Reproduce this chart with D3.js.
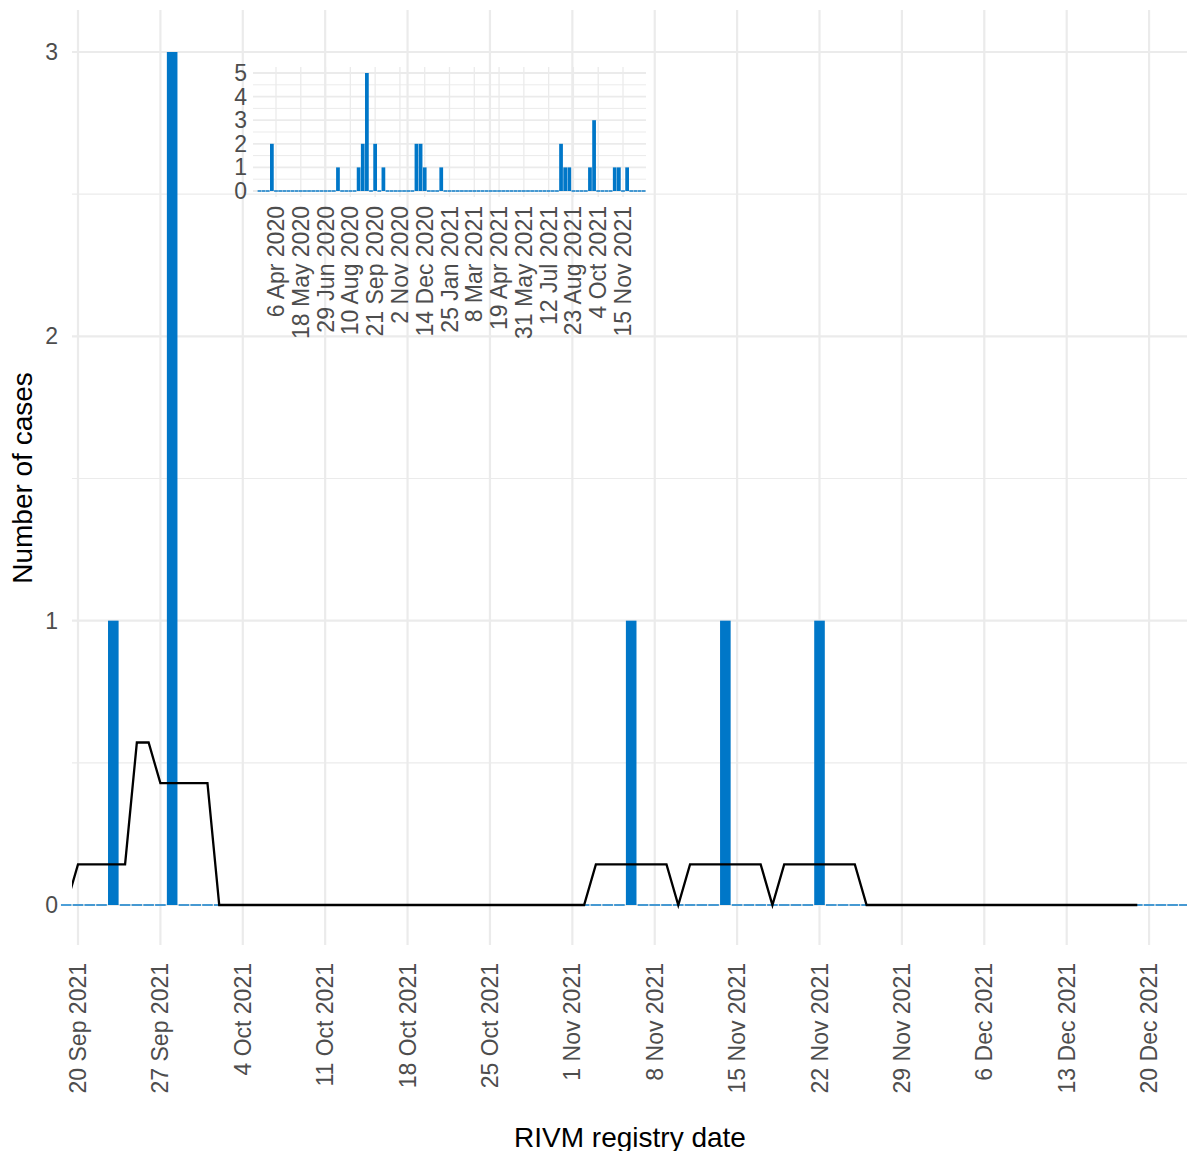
<!DOCTYPE html>
<html><head><meta charset="utf-8">
<script src="https://cdn.jsdelivr.net/npm/d3@7"></script>
<style>body{margin:0;background:#fff}text{font-family:"Liberation Sans",Arial,sans-serif}</style>
</head><body>
<script>
// ---- main chart data ----
const caseDates = ["2021-09-23","2021-09-28","2021-09-28","2021-09-28","2021-11-06","2021-11-14","2021-11-22"];
const barStart = "2021-09-19", barEnd = "2021-12-23";
const lineStart = "2021-09-19";
const lineValues = [0,
 1/7,1/7,1/7,1/7,1/7, 4/7,4/7, 3/7,3/7,3/7,3/7,3/7,
 0,0,0,0,0,0,0,0,0,0,0,0,0,0,0,0,0,0,0,0,0,0,0,0,0,0,0,0,0,0,0,0,
 1/7,1/7,1/7,1/7,1/7,1/7,1/7, 0,
 1/7,1/7,1/7,1/7,1/7,1/7,1/7, 0,
 1/7,1/7,1/7,1/7,1/7,1/7,1/7,
 0,0,0,0,0,0,0,0,0,0,0,0,0,0,0,0,0,0,0,0,0,0,0,0];
const mainTicks = ["2021-09-20","2021-09-27","2021-10-04","2021-10-11","2021-10-18","2021-10-25","2021-11-01","2021-11-08","2021-11-15","2021-11-22","2021-11-29","2021-12-06","2021-12-13","2021-12-20"];
// ---- inset data (weekly) ----
const weekStart = "2020-03-09", weekEnd = "2021-12-20";
const weekDates = ["2020-03-30","2020-07-20","2020-08-24","2020-08-31","2020-09-07","2020-09-21","2020-10-05","2020-11-30","2020-12-07","2020-12-14","2021-01-11","2021-08-02","2021-08-09","2021-08-16","2021-09-20","2021-09-27","2021-11-01","2021-11-08","2021-11-22"];
const weekValues = [2,1,1,2,5,2,1,2,2,1,1,2,1,1,1,3,1,1,1];
const insetTicks = ["2020-04-06","2020-05-18","2020-06-29","2020-08-10","2020-09-21","2020-11-02","2020-12-14","2021-01-25","2021-03-08","2021-04-19","2021-05-31","2021-07-12","2021-08-23","2021-10-04","2021-11-15"];

const P = d3.utcParse("%Y-%m-%d"), DAY = 864e5;
const fmt = d => `${d.getUTCDate()} ${d3.utcFormat("%b %Y")(d)}`;
const svg = d3.select("body").append("svg").attr("width",1187).attr("height",1151);
const grid = "#ebebeb", blue = "#0077c8";

// main scales
const t0 = +P("2021-09-20");
const x = d3.scaleUtc().domain([new Date(t0 - 6*DAY/11.77), new Date(t0 + 1109*DAY/11.77)]).range([72,1187]);
const y = d3.scaleLinear().domain([0,3]).range([905,52]);
const pTop = 10, pBot = 945;
const g = svg.append("g");
[0.5,1.5,2.5].forEach(v=>g.append("line").attr("x1",72).attr("x2",1187).attr("y1",y(v)).attr("y2",y(v)).attr("stroke",grid).attr("stroke-width",1.1));
[0,1,2,3].forEach(v=>g.append("line").attr("x1",72).attr("x2",1187).attr("y1",y(v)).attr("y2",y(v)).attr("stroke",grid).attr("stroke-width",2.2));
mainTicks.forEach(s=>g.append("line").attr("x1",x(P(s))).attr("x2",x(P(s))).attr("y1",pTop).attr("y2",pBot).attr("stroke",grid).attr("stroke-width",2.2));

const counts = d3.rollup(caseDates, v=>v.length, d=>d);
const days = d3.utcDay.range(P(barStart), new Date(+P(barEnd)+DAY));
const bw = 11.77*0.9;
const cnt = d => counts.get(d3.utcFormat("%Y-%m-%d")(d))||0;
g.selectAll(".b").data(days).join("rect")
 .attr("x", d=>x(d)-bw/2).attr("width", bw)
 .attr("y", d=>cnt(d)?y(cnt(d)):y(0)-0.7)
 .attr("height", d=>cnt(d)?y(0)-y(cnt(d)):1.4)
 .attr("fill", blue);
svg.append("clipPath").attr("id","c").append("rect").attr("x",72).attr("y",0).attr("width",1115).attr("height",1000);
const l0 = +P(lineStart);
g.append("path").datum(lineValues).attr("clip-path","url(#c)")
 .attr("d", d3.line().x((d,i)=>x(new Date(l0+i*DAY))).y(d=>y(d)))
 .attr("fill","none").attr("stroke","#000").attr("stroke-width",2.3);

[0,1,2,3].forEach(v=>g.append("text").attr("x",58).attr("y",y(v)+8).attr("text-anchor","end").attr("font-size",23).attr("fill","#4d4d4d").text(v));
mainTicks.forEach(s=>g.append("text").attr("transform",`translate(${x(P(s))+8},963) rotate(-90)`).attr("text-anchor","end").attr("font-size",23).attr("fill","#4d4d4d").text(fmt(P(s))));
svg.append("text").attr("x",630).attr("y",1147).attr("text-anchor","middle").attr("font-size",28).text("RIVM registry date");
svg.append("text").attr("transform","translate(32,478) rotate(-90)").attr("text-anchor","middle").attr("font-size",28).text("Number of cases");

// inset
const ig = svg.append("g");
const i0 = +P("2020-04-06");
const xi = d3.scaleUtc().domain([P("2020-04-06"), P("2021-11-15")]).range([276,623]);
const yi = d3.scaleLinear().domain([0,5]).range([191,73]);
const il = 253, ir = 646, itop = 67, ibot = 197;
d3.range(0.5,5.5,1).forEach(v=>ig.append("line").attr("x1",il).attr("x2",ir).attr("y1",yi(v)).attr("y2",yi(v)).attr("stroke",grid).attr("stroke-width",1));
d3.range(0,6).forEach(v=>ig.append("line").attr("x1",il).attr("x2",ir).attr("y1",yi(v)).attr("y2",yi(v)).attr("stroke",grid).attr("stroke-width",1.8));
insetTicks.forEach(s=>ig.append("line").attr("x1",xi(P(s))).attr("x2",xi(P(s))).attr("y1",itop).attr("y2",ibot).attr("stroke",grid).attr("stroke-width",1.3));
const wk = new Map(weekDates.map((d,i)=>[d,weekValues[i]]));
const weeks = d3.utcMonday.range(P(weekStart), new Date(+P(weekEnd)+DAY));
const ww = xi(new Date(i0+7*DAY))-xi(new Date(i0));
const wv = d => wk.get(d3.utcFormat("%Y-%m-%d")(d))||0;
ig.selectAll("rect").data(weeks).join("rect")
 .attr("x", d=>xi(d)-ww/2+0.2).attr("width", ww-0.4)
 .attr("y", d=>wv(d)?yi(wv(d)):yi(0)-0.7)
 .attr("height", d=>wv(d)?yi(0)-yi(wv(d)):1.4)
 .attr("fill", blue);
d3.range(0,6).forEach(v=>ig.append("text").attr("x",247).attr("y",yi(v)+8).attr("text-anchor","end").attr("font-size",23).attr("fill","#4d4d4d").text(v));
insetTicks.forEach(s=>ig.append("text").attr("transform",`translate(${xi(P(s))+8},206) rotate(-90)`).attr("text-anchor","end").attr("font-size",23).attr("fill","#4d4d4d").text(fmt(P(s))));
</script></body></html>
